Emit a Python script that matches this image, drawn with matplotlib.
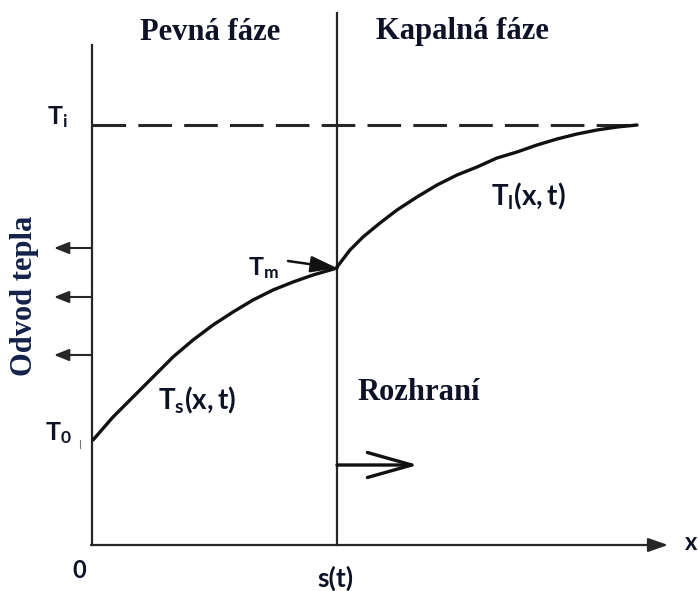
import matplotlib.pyplot as plt

# schematic of a solidification front (Stefan problem), coordinates in picture units
plt.rcParams['mathtext.fontset'] = 'custom'
plt.rcParams['mathtext.rm'] = 'Lato:bold'
plt.rcParams['mathtext.it'] = 'Lato:bold'
plt.rcParams['mathtext.bf'] = 'Lato:bold'

# solid-phase temperature Ts(x,t)
solid_x = [93, 113, 133, 153, 173, 193, 213, 233, 253, 273, 293, 313, 337]
solid_T = [440, 417, 397, 377, 357, 340, 325, 312, 300, 290, 282, 275, 268]
# liquid-phase temperature Tl(x,t)
liquid_x = [337, 350, 363, 380, 397, 417, 437, 457, 477, 497, 517, 537,
            557, 577, 597, 617, 637]
liquid_T = [267, 250, 237, 223, 210, 197, 185, 175, 167, 158, 152, 145,
            139, 134, 130, 127, 125]

x_wall = 92
x_front = 337
x_end = 640
T_init = 125
y_base = 545
heat_out = [248, 297, 355]   # heights of heat removal arrows

line_c = '#262626'
txt_c = '#0d1226'
serif = 'Liberation Serif'
sans = 'Lato'

fig = plt.figure(figsize=(6.99, 5.91), dpi=100)
ax = fig.add_axes([0, 0, 1, 1])
ax.set_xlim(0, 699)
ax.set_ylim(591, 0)
ax.axis('off')

# axes
ax.plot([x_wall, x_wall], [45, y_base], color=line_c, lw=1.6)
ax.annotate('', xy=(668, y_base), xytext=(x_wall - 1, y_base),
            arrowprops=dict(arrowstyle='-|>,head_length=1.0,head_width=0.35',
                            color=line_c, lw=1.6,
                            mutation_scale=12, shrinkA=0, shrinkB=0))
ax.plot([x_front, x_front], [13, y_base], color=line_c, lw=1.6)

# initial temperature
ax.plot([x_wall, x_end], [T_init, T_init], color=line_c, lw=2.2,
        dashes=(11, 4))

# temperature profiles
ax.plot(solid_x, solid_T, color='#111111', lw=2.4,
        solid_capstyle='round', solid_joinstyle='round')
ax.plot(liquid_x, liquid_T, color='#111111', lw=2.4,
        solid_capstyle='round', solid_joinstyle='round')

# heat removal arrows
for y in heat_out:
    ax.annotate('', xy=(54, y), xytext=(x_wall, y),
                arrowprops=dict(arrowstyle='-|>,head_length=0.9,head_width=0.36',
                                color=line_c, lw=1.5,
                                mutation_scale=10, shrinkA=0, shrinkB=0))

# Tm pointer
ax.annotate('', xy=(x_front, 268), xytext=(288, 261),
            arrowprops=dict(arrowstyle='-|>,head_length=1.6,head_width=0.5',
                            color='#111111', lw=1.8,
                            mutation_scale=10, shrinkA=0, shrinkB=0))

# front movement
ax.annotate('', xy=(418, 465), xytext=(x_front, 465),
            arrowprops=dict(arrowstyle='->,head_length=1.6,head_width=0.45',
                            color='#111111', lw=2.4,
                            mutation_scale=20, shrinkA=0, shrinkB=0))

# small marks of the original drawing
ax.plot([80, 80], [440, 448], color='#777777', lw=0.8)

# texts
ax.text(210, 32, 'Pevná fáze', family=serif, weight='bold', fontsize=22,
        color=txt_c, ha='center', va='center')
ax.text(462, 32, 'Kapalná fáze', family=serif, weight='bold', fontsize=22,
        color=txt_c, ha='center', va='center')
ax.text(25, 296, 'Odvod tepla', family=serif, weight='bold', fontsize=22,
        color='#14224a', ha='center', va='center', rotation=90)
ax.text(419, 392, 'Rozhraní', family=serif, weight='bold', fontsize=22,
        color=txt_c, ha='center', va='center')

ax.text(57, 117, r'$\mathrm{T_i}$', fontsize=18, color=txt_c,
        ha='center', va='center')
ax.text(263, 268, r'$\mathrm{T_m}$', fontsize=18, color=txt_c,
        ha='center', va='center')
ax.text(58, 433, r'$\mathrm{T_0}$', fontsize=18, color=txt_c,
        ha='center', va='center')
ax.text(197, 400, r'$\mathrm{T_s(x,t)}$', fontsize=20, color=txt_c,
        ha='center', va='center')
ax.text(528, 196, r'$\mathrm{T_l(x,t)}$', fontsize=20, color=txt_c,
        ha='center', va='center')
ax.text(79, 571, '0', family=sans, weight='bold', fontsize=17, color=txt_c,
        ha='center', va='center')
ax.text(335, 578, 's(t)', family=sans, weight='bold', fontsize=19,
        color=txt_c, ha='center', va='center')
ax.text(691, 542, 'x', family=sans, weight='bold', fontsize=17, color=txt_c,
        ha='center', va='center')

fig.savefig('out.png', dpi=100, facecolor='white')
